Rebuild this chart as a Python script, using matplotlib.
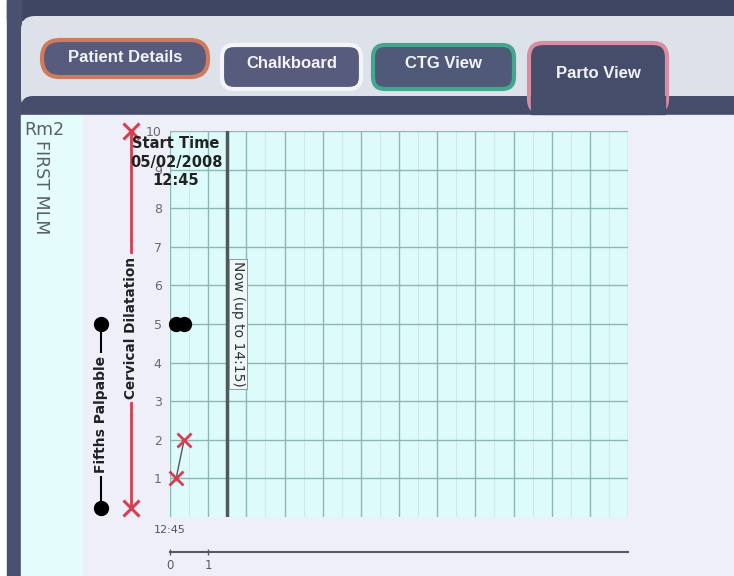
import matplotlib
matplotlib.use("Agg")
import matplotlib.pyplot as plt
from matplotlib.patches import Rectangle, FancyBboxPatch

# Datos del partograma (horas desde el inicio 12:45)
dilatacion_horas = [0.16, 0.37]
dilatacion_cm = [1, 2]
quintos_horas = [0.16, 0.37]
quintos_palpables = [5, 5]

ahora_horas = 1.5
ahora_texto = "Now (up to 14:15)"
inicio_texto = "Start Time\n05/02/2008\n12:45"
y_ticks = list(range(1, 11))
x_ticks = [0, 1]
x_tick_labels = ["0", "1"]
horas_grilla = list(range(0, 13))
pestanas = ["Patient Details", "Chalkboard", "CTG View", "Parto View"]

W, H = 734, 576
fig = plt.figure(figsize=(W / 100, H / 100), dpi=100)
fig.patch.set_facecolor("white")

# Capa de fondo en pixeles para la interfaz
bg = fig.add_axes([0, 0, 1, 1], zorder=-1)
bg.set_xlim(0, W)
bg.set_ylim(H, 0)
bg.axis("off")

oscuro = "#454d6b"
bg.add_patch(Rectangle((7, 0), W - 7, 20, color="#3e4664"))
bg.add_patch(Rectangle((7, 0), 14, H, color="#4a516f"))
bg.add_patch(FancyBboxPatch((21, 16), W, 95, boxstyle="round,pad=0,rounding_size=14",
                            fc="#dde2ea", ec="none"))
bg.add_patch(FancyBboxPatch((21, 96), W, 30, boxstyle="round,pad=0,rounding_size=12",
                            fc=oscuro, ec="none"))
bg.add_patch(Rectangle((21, 115), 62, H - 115, color="#e4fcfc"))
bg.add_patch(Rectangle((83, 115), W - 83, H - 115, color="#eeeff9"))

# Pestanas
tabs = [
    (42, 40, 166, 37, "#cf7a5c", "#575b7c", 18),
    (222, 45, 139, 44, "#f4f4f8", "#575b7c", 12),
    (373, 45, 141, 44, "#43a78f", "#4f5a78", 12),
    (529, 43, 138, 70, "#d98da3", oscuro, 14),
]
for (x, y, w, h, borde, relleno, r), nombre in zip(tabs, pestanas):
    bg.add_patch(FancyBboxPatch((x, y), w, h, boxstyle=f"round,pad=0,rounding_size={r}",
                                fc=relleno, ec=borde, lw=3))
    ty = y + 18 if nombre != "Parto View" else y + 30
    bg.text(x + w / 2, ty, nombre, color="#f4f4fa", fontsize=12, ha="center", va="center",
            family="Liberation Sans", fontweight="bold")
bg.add_patch(Rectangle((531, 96), 134, 18, color=oscuro))

bg.text(24, 130, "Rm2", fontsize=12.5, color="#5a6068", va="center")
bg.text(41, 140, "FIRST MLM", fontsize=12.5, color="#5a6068", rotation=-90, ha="center", va="top")

# Grafico principal
ax = fig.add_axes([170 / W, 1 - 517 / H, 458 / W, 386 / H])
ax.set_facecolor("#defbfb")
ax.set_xlim(0, 12)
ax.set_ylim(0, 10)
ax.set_yticks(y_ticks)
ax.grid(True, axis="y", color="#8fb6b6", lw=1)
ax.set_axisbelow(True)
for s in ["left", "top", "right"]:
    ax.spines[s].set_visible(False)
ax.spines["bottom"].set_position(("outward", 25))
ax.spines["bottom"].set_color("#555a60")
ax.spines["bottom"].set_linewidth(1.5)
ax.set_xticks(x_ticks)
ax.set_xticklabels(x_tick_labels)
ax.tick_params(axis="x", length=5, width=1, colors="#555a60", labelsize=8.5, pad=3, direction="inout")
ax.tick_params(axis="y", length=0, labelsize=9, labelcolor="#666a70", pad=6)

# Grilla vertical manual porque los ticks x solo muestran 0 y 1
for xv in horas_grilla:
    ax.axvline(xv, color="#8fb6b6", lw=1, zorder=0.5)
    if xv < 12:
        ax.axvline(xv + 0.5, color="#cde8e8", lw=0.8, zorder=0.4)

ax.text(0, -0.2, "12:45", fontsize=8, color="#555", ha="center", va="top")

ax.axvline(ahora_horas, color="#4d5a5a", lw=2.5, zorder=3)
ax.text(ahora_horas + 0.28, 5.0, ahora_texto, rotation=-90, ha="center", va="center",
        fontsize=10, color="#333", zorder=4,
        bbox=dict(boxstyle="square,pad=0.15", fc="#eef8f8", ec="#888", lw=0.6))

ax.text(0.16, 9.87, inicio_texto, ha="center", va="top", fontsize=10.5, fontweight="bold",
        color="#222", linespacing=1.3, zorder=5)

# Series
ax.plot(dilatacion_horas, dilatacion_cm, color="#555", lw=1, zorder=5,
        marker="x", ms=10, mew=2, mec="#d63e4e", clip_on=False)
ax.plot(quintos_horas, quintos_palpables, color="black", lw=1, zorder=5,
        marker="o", ms=10, mfc="black", mec="black", clip_on=False)

# Leyenda vertical a la izquierda
tr = ax.get_yaxis_transform()
ax.plot([-0.085, -0.085], [10, 0.23], transform=tr, color="#d63e4e", lw=2, clip_on=False,
        marker="x", ms=11, mew=2.2, mec="#d63e4e")
ax.text(-0.085, 4.9, "Cervical Dilatation", transform=tr, rotation=90, ha="center", va="center",
        fontsize=9.8, fontweight="bold", color="#222",
        bbox=dict(boxstyle="square,pad=0.2", fc="#eeeff9", ec="none"))
ax.plot([-0.151, -0.151], [5, 0.23], transform=tr, color="black", lw=1.5, clip_on=False,
        marker="o", ms=10)
ax.text(-0.151, 2.65, "Fifths Palpable", transform=tr, rotation=90, ha="center", va="center",
        fontsize=10, fontweight="bold", color="#222",
        bbox=dict(boxstyle="square,pad=0.2", fc="#eeeff9", ec="none"))

fig.savefig("out.png", dpi=100)
